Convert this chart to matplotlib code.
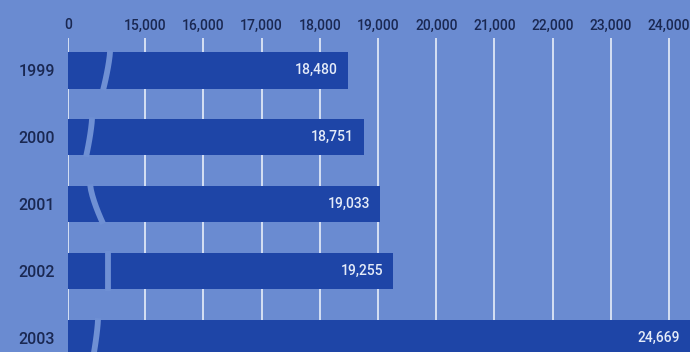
import matplotlib.pyplot as plt
import numpy as np

years = ['1999', '2000', '2001', '2002', '2003']
values = [18480, 18751, 19033, 19255, 24669]
ticks = [0, 15000, 16000, 17000, 18000, 19000, 20000, 21000, 22000, 23000, 24000]
# where the hand-drawn break crosses each bar (value at top, value at bottom)
brk_top = [8180, 4680, 4290, 7800, 5840]
brk_bot = [6820, 3500, 6820, 7800, 4870]

bg = '#6a8bd1'
bar_col = '#1e45a7'
txt_col = '#1a2852'
font = 'Roboto'

# squeeze 0..15,000 into a short stub, linear above that
k = 0.0885
cut = 15000
xmax = 24360

def fwd(v):
    v = np.asarray(v, dtype=float)
    return np.where(v < cut, v * k, v - cut + cut * k)

def inv(u):
    u = np.asarray(u, dtype=float)
    return np.where(u < cut * k, u / k, u + cut - cut * k)

fig = plt.figure(figsize=(6.9, 3.52), dpi=100, facecolor=bg)
ax = fig.add_axes([68 / 690, 0, 622 / 690, 314 / 352])
ax.set_facecolor(bg)
ax.set_xscale('function', functions=(fwd, inv))
ax.set_xlim(0, xmax)
ax.set_ylim(4.21, -0.48)

y = np.arange(len(years))
h = 0.55
ax.barh(y, values, height=h, left=2, color=bar_col, zorder=2)

# break marks across the bars
for i in range(len(years)):
    yy = np.linspace(i - h / 2 - 0.02, i + h / 2 + 0.02, 8)
    t = (yy - yy[0]) / (yy[-1] - yy[0])
    xx = brk_top[i] + (brk_bot[i] - brk_top[i]) * t ** 1.4
    ax.plot(xx, yy, color='#6f90d4', lw=4.2, solid_capstyle='butt', zorder=3)

for i, v in enumerate(values):
    ax.annotate(f'{v:,}', xy=(min(v, xmax), i), xytext=(-7, 0), textcoords='offset points',
                ha='right', va='center', color='#e4ebf8', fontsize=10,
                family=font, fontweight='medium', zorder=4)

ax.set_xticks(ticks)
ax.set_xticklabels(['0'] + [f'{t:,}' for t in ticks[1:]])
ax.xaxis.tick_top()
ax.tick_params(axis='x', length=0, pad=4, labelsize=10, labelcolor=txt_col)
ax.set_yticks(y)
ax.set_yticklabels(years)
ax.tick_params(axis='y', length=0, pad=9.5, labelsize=11.5, labelcolor=txt_col)
for lab in ax.get_xticklabels() + ax.get_yticklabels():
    lab.set_family(font)
    lab.set_fontweight('medium')

ax.grid(axis='x', color='#e8eef9', lw=1.4, alpha=0.85)
ax.grid(axis='y', visible=False)
ax.set_axisbelow(True)
for s in ax.spines.values():
    s.set_visible(False)

fig.savefig('out.png', dpi=100, facecolor=bg)
